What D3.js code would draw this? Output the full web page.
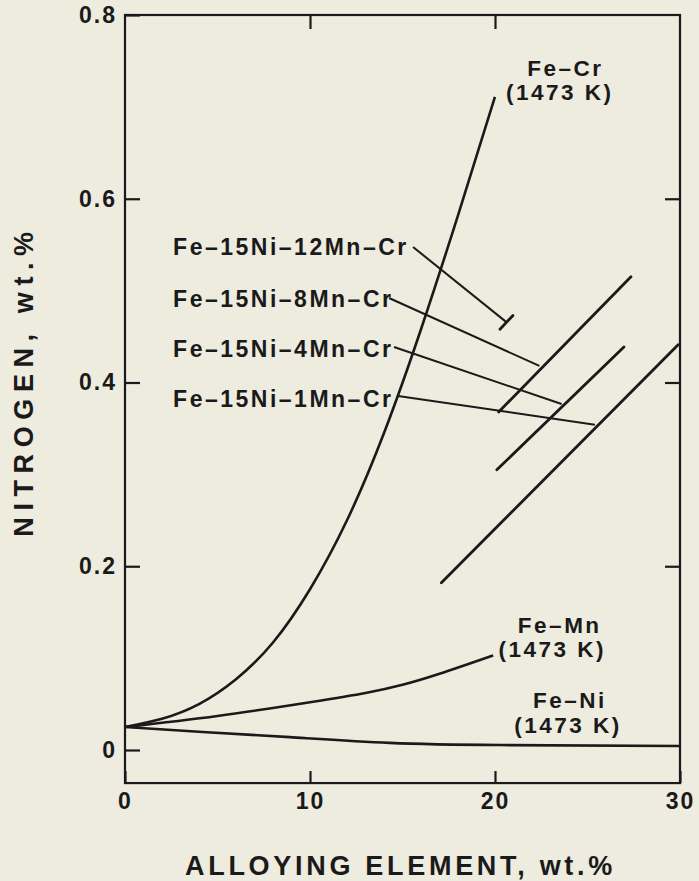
<!DOCTYPE html>
<html>
<head>
<meta charset="utf-8">
<script src="https://cdn.jsdelivr.net/npm/d3@7"></script>
<style>
  html, body { margin: 0; padding: 0; background: #eeebdf; }
  svg { display: block; font-family: "Liberation Sans", Arial, Helvetica, sans-serif; font-weight: bold; }
  text { fill: #1a1a1a; }
</style>
</head>
<body>
<svg id="chart" width="699" height="881"></svg>
<script>
// ---- data ----
const xTickValues = [0, 10, 20, 30];
const xTickLabels = ["0", "10", "20", "30"];
const yTickValues = [0, 0.2, 0.4, 0.6, 0.8];
const yTickLabels = ["0", "0.2", "0.4", "0.6", "0.8"];

// binary alloys at 1473 K: [wt.% alloying element, wt.% N]
const feCr = [[0, 0.025], [2, 0.034], [4, 0.050], [6, 0.077], [8, 0.117], [10, 0.175],
              [12, 0.250], [14, 0.345], [16, 0.458], [18, 0.582], [20, 0.711]];
const feMn = [[0, 0.025], [5, 0.037], [10, 0.052], [13, 0.062], [15, 0.071], [17, 0.083], [19.9, 0.103]];
const feNi = [[0, 0.025], [4.2, 0.0196], [8.9, 0.014], [14.3, 0.0078], [20.3, 0.0054], [30, 0.0044]];

// Fe-15Ni-xMn-Cr (straight segments)
const mn12 = [[20.27, 0.458], [20.97, 0.473]];
const mn8  = [[20.2, 0.368], [27.35, 0.515]];
const mn4  = [[20.1, 0.305], [26.97, 0.4386]];
const mn1  = [[17.1, 0.182], [29.9, 0.441]];

const seriesLabels = ["Fe-15Ni-12Mn-Cr", "Fe-15Ni-8Mn-Cr", "Fe-15Ni-4Mn-Cr", "Fe-15Ni-1Mn-Cr"];

// ---- layout ----
const width = 699;
const height = 881;
const yFloor = -0.036;   // frame bottom sits a little below N = 0

const svg = d3.select("#chart");

const x = d3.scaleLinear().domain([0, 30]).range([125, 680]);
const y = d3.scaleLinear().domain([0, 0.8]).range([750, 15]);

const ink = "#1a1a1a";

// frame
svg.append("rect")
    .attr("x", x(0))
    .attr("y", y(0.8))
    .attr("width", x(30) - x(0))
    .attr("height", y(yFloor) - y(0.8))
    .attr("fill", "none")
    .attr("stroke", ink)
    .attr("stroke-width", 2.2);

// axes with inward ticks
function styleAxis(sel) {
    sel.select(".domain").remove();
    sel.selectAll(".tick line").attr("stroke", ink).attr("stroke-width", 2.2);
    sel.selectAll(".tick text")
        .attr("fill", ink)
        .style("font-size", "23px")
        .style("letter-spacing", "2px");
}

svg.append("g")
    .attr("transform", `translate(${x(0)},0)`)
    .call(d3.axisLeft(y)
        .tickValues(yTickValues)
        .tickSize(-15)
        .tickPadding(8)
        .tickFormat((d, i) => yTickLabels[i]))
    .call(styleAxis);

svg.append("g")
    .attr("transform", `translate(0,${y(yFloor)})`)
    .call(d3.axisBottom(x)
        .tickValues(xTickValues)
        .tickSize(-12)
        .tickPadding(10)
        .tickFormat((d, i) => xTickLabels[i]))
    .call(styleAxis);

svg.append("g")
    .attr("transform", `translate(0,${y(0.8)})`)
    .call(d3.axisTop(x).tickValues([10, 20]).tickSize(-14).tickFormat(""))
    .call(styleAxis);

svg.append("g")
    .attr("transform", `translate(${x(30)},0)`)
    .call(d3.axisRight(y).tickValues([0.2, 0.4, 0.6]).tickSize(-15).tickFormat(""))
    .call(styleAxis);

// axis titles
svg.append("text")
    .attr("x", (x(0) + x(30)) / 2 - 2)
    .attr("y", 875)
    .attr("text-anchor", "middle")
    .style("font-size", "27px")
    .style("letter-spacing", "3.7px")
    .text("ALLOYING ELEMENT, wt.%");

svg.append("text")
    .attr("transform", "translate(33,381) rotate(-90)")
    .attr("text-anchor", "middle")
    .style("font-size", "27px")
    .style("letter-spacing", "6.6px")
    .text("NITROGEN, wt.%");

// curves
const line = d3.line().x(d => x(d[0])).y(d => y(d[1]));
const smooth = d3.line().x(d => x(d[0])).y(d => y(d[1])).curve(d3.curveNatural);

[feCr, feMn, feNi].forEach(s => {
    svg.append("path")
        .attr("d", smooth(s))
        .attr("fill", "none")
        .attr("stroke", ink)
        .attr("stroke-width", 2.6);
});

[mn12, mn8, mn4, mn1].forEach(s => {
    svg.append("path")
        .attr("d", line(s))
        .attr("fill", "none")
        .attr("stroke", ink)
        .attr("stroke-width", 2.8)
        .attr("stroke-linecap", "round");
});

// binary alloy labels
const curveNotes = [
    {x: 23.8, y: 0.7336, t: "Fe–Cr"},
    {x: 23.5, y: 0.7075, t: "(1473 K)"},
    {x: 23.5, y: 0.1273, t: "Fe–Mn"},
    {x: 23.1, y: 0.1012, t: "(1473 K)"},
    {x: 24.05, y: 0.0457, t: "Fe–Ni"},
    {x: 23.95, y: 0.0185, t: "(1473 K)"}
];

svg.selectAll(".note")
    .data(curveNotes)
    .enter()
    .append("text")
    .attr("class", "note")
    .attr("x", d => x(d.x))
    .attr("y", d => y(d.y))
    .attr("text-anchor", "middle")
    .style("font-size", "22.5px")
    .style("letter-spacing", "2.5px")
    .text(d => d.t);

// Fe-15Ni-xMn-Cr labels with leader lines
const labelX = 2.6;
const labelY = [0.5388, 0.4822, 0.4278, 0.3733];
const leaderFrom = [[15.57, 0.5475], [14.27, 0.492], [14.54, 0.4386], [14.76, 0.3853]];
const leaderTo = [[20.6, 0.466], [22.4, 0.418], [23.6, 0.3766], [25.4, 0.354]];

seriesLabels.forEach((t, i) => {
    svg.append("text")
        .attr("x", x(labelX))
        .attr("y", y(labelY[i]))
        .style("font-size", "23px")
        .style("letter-spacing", "2.5px")
        .text(t.replace(/-/g, "–"));

    svg.append("line")
        .attr("x1", x(leaderFrom[i][0]))
        .attr("y1", y(leaderFrom[i][1]))
        .attr("x2", x(leaderTo[i][0]))
        .attr("y2", y(leaderTo[i][1]))
        .attr("stroke", ink)
        .attr("stroke-width", 2);
});
</script>
</body>
</html>
